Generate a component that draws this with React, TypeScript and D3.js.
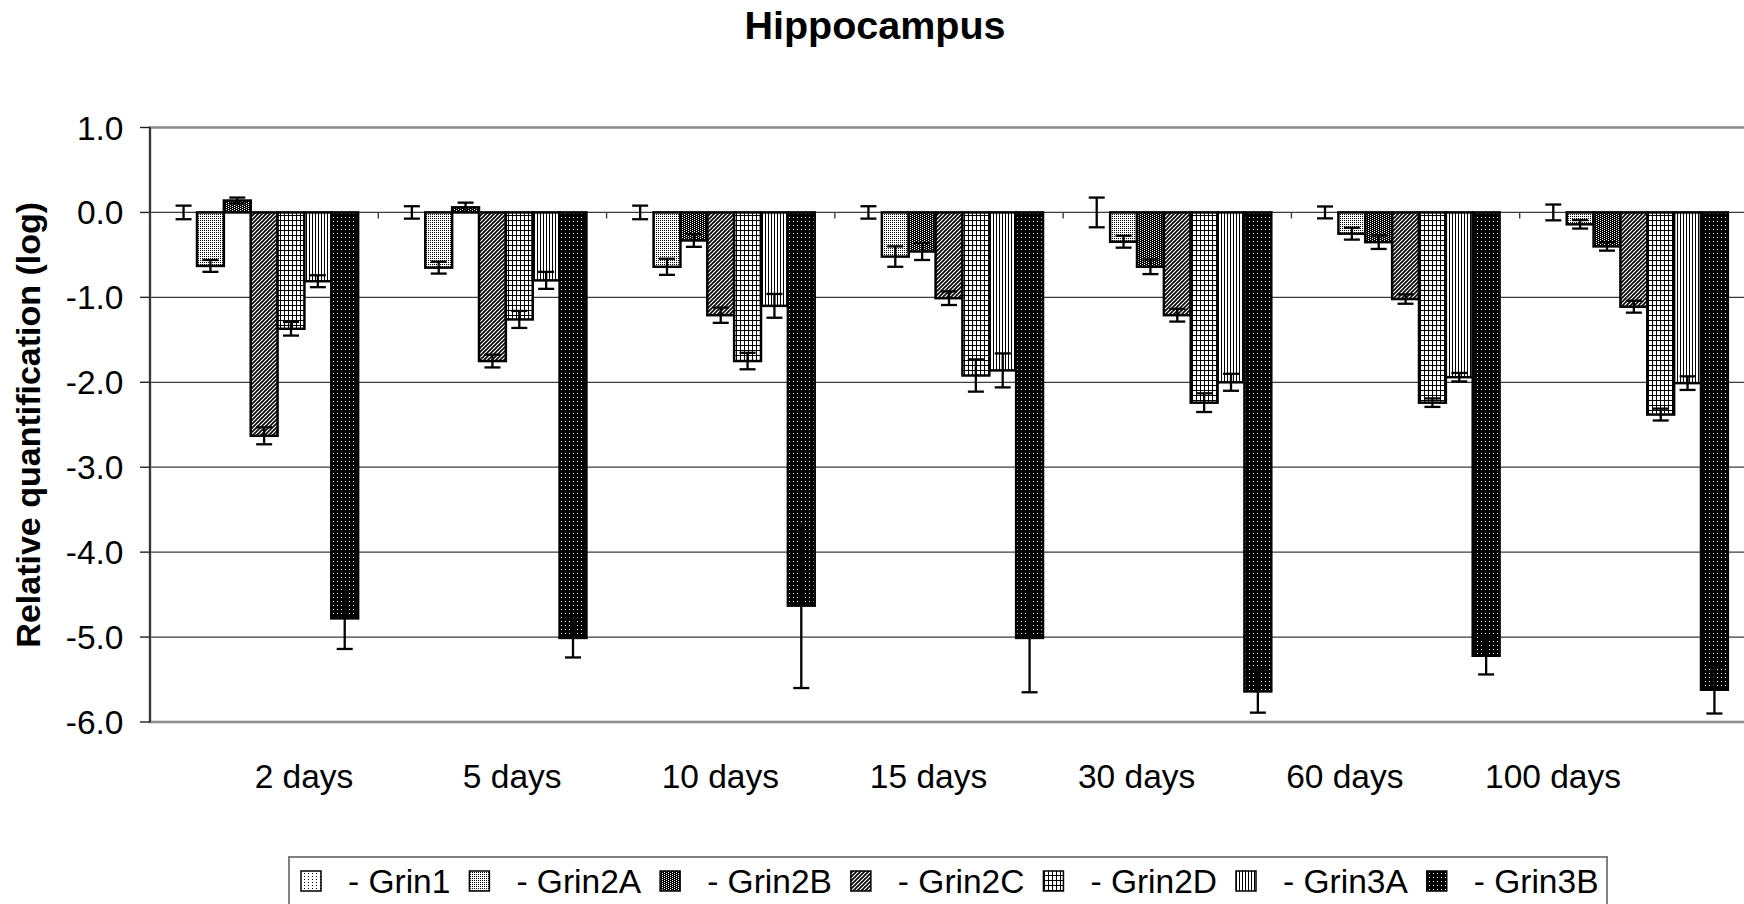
import React, { useEffect, useRef } from "react";
import * as d3 from "d3";

// Time points after treatment (category axis)
const DAYS = ["2 days", "5 days", "10 days", "15 days", "30 days", "60 days", "100 days"];

// NMDA receptor subunits (series)
const GENES = ["Grin1", "Grin2A", "Grin2B", "Grin2C", "Grin2D", "Grin3A", "Grin3B"];

// Relative quantification (log) per subunit, one value per time point
const GRIN1 = [0, 0, 0, 0, 0, 0, 0];
const GRIN2A = [-0.63, -0.65, -0.64, -0.52, -0.345, -0.25, -0.14];
const GRIN2B = [0.14, 0.06, -0.33, -0.46, -0.64, -0.35, -0.4];
const GRIN2C = [-2.63, -1.75, -1.21, -1.01, -1.21, -1.02, -1.11];
const GRIN2D = [-1.37, -1.26, -1.75, -1.92, -2.24, -2.24, -2.38];
const GRIN3A = [-0.81, -0.8, -1.1, -1.86, -2.0, -1.94, -2.01];
const GRIN3B = [-4.78, -5.01, -4.63, -5.01, -5.64, -5.22, -5.62];

// Error (± amplitude) for each value
const GRIN1_ERR = [0.08, 0.073, 0.08, 0.073, 0.175, 0.07, 0.093];
const GRIN2A_ERR = [0.07, 0.07, 0.095, 0.12, 0.07, 0.07, 0.05];
const GRIN2B_ERR = [0.035, 0.055, 0.075, 0.1, 0.086, 0.08, 0.05];
const GRIN2C_ERR = [0.1, 0.075, 0.09, 0.08, 0.075, 0.055, 0.07];
const GRIN2D_ERR = [0.08, 0.1, 0.097, 0.19, 0.11, 0.05, 0.07];
const GRIN3A_ERR = [0.07, 0.1, 0.14, 0.2, 0.1, 0.05, 0.08];
const GRIN3B_ERR = [0.36, 0.23, 0.97, 0.64, 0.25, 0.22, 0.28];

const Y_TICKS = [1, 0, -1, -2, -3, -4, -5, -6];
const TITLE = "Hippocampus";
const Y_TITLE = "Relative quantification (log)";

const VALUES = [GRIN1, GRIN2A, GRIN2B, GRIN2C, GRIN2D, GRIN3A, GRIN3B];
const ERRORS = [GRIN1_ERR, GRIN2A_ERR, GRIN2B_ERR, GRIN2C_ERR, GRIN2D_ERR, GRIN3A_ERR, GRIN3B_ERR];

const W = 1744;
const H = 904;
const FONT = "'Liberation Sans', Arial, Helvetica, sans-serif";

type Sel = d3.Selection<SVGDefsElement, unknown, null, undefined>;

function addPatterns(defs: Sel) {
  const mk = (id: string, w: number, h: number, bg: string) => {
    const p = defs
      .append("pattern")
      .attr("id", id)
      .attr("patternUnits", "userSpaceOnUse")
      .attr("width", w)
      .attr("height", h);
    p.append("rect").attr("width", w).attr("height", h).attr("fill", bg);
    return p;
  };
  const px = (p: any, x: number, y: number, w: number, h: number, c: string) =>
    p
      .append("rect")
      .attr("x", x)
      .attr("y", y)
      .attr("width", w)
      .attr("height", h)
      .attr("fill", c)
      .attr("shape-rendering", "crispEdges");

  // Grin1: sparse dots on white
  let p = mk("pat-0", 4, 3, "#fff");
  px(p, 0, 0, 1, 1, "#000");

  // Grin2A: light stipple
  p = mk("pat-1", 2, 2, "#fff");
  px(p, 0, 0, 1, 1, "#000");

  // Grin2B: dark stipple
  p = mk("pat-2", 4, 2, "#000");
  px(p, 0, 0, 1, 1, "#fff");
  px(p, 2, 1, 1, 1, "#fff");

  // Grin2C: upward diagonal hatching
  p = mk("pat-3", 4, 4, "#fff");
  p.append("path")
    .attr("d", "M0,4 L4,0 M-1,1 L1,-1 M3,5 L5,3")
    .attr("stroke", "#000")
    .attr("stroke-width", 1.6);

  // Grin2D: small grid
  p = mk("pat-4", 8, 5, "#fff");
  px(p, 0, 0, 1, 5, "#000");
  px(p, 4, 0, 1, 5, "#000");
  px(p, 0, 0, 8, 1, "#000");

  // Grin3A: narrow vertical stripes
  p = mk("pat-5", 3, 4, "#fff");
  px(p, 0, 0, 1, 4, "#000");

  // Grin3B: black with fine white dots
  p = mk("pat-6", 4, 4, "#000");
  px(p, 1, 1, 1, 1, "#fff");
}

export default function App() {
  const ref = useRef<SVGSVGElement | null>(null);

  useEffect(() => {
    document.body.style.margin = "0";
    document.body.style.overflow = "hidden";
    const svg = d3.select(ref.current as SVGSVGElement);
    svg.selectAll("*").remove();

    const defs = svg.append("defs") as unknown as Sel;
    addPatterns(defs);

    const left = 150;
    const right = 1748;
    const top = 127.5;
    const bottom = 722;

    const x = d3.scaleBand<string>().domain(DAYS).range([left, right]).paddingInner(0).paddingOuter(0);
    const xi = d3
      .scaleBand<string>()
      .domain(GENES)
      .range([0, x.bandwidth()])
      .paddingInner(0)
      .paddingOuter(0.75);
    const y = d3.scaleLinear().domain([-6, 1]).range([bottom, top]);
    const xLabel = d3.scalePoint<string>().domain(DAYS).range([304, 1553]);

    // Title
    svg
      .append("text")
      .attr("x", 875)
      .attr("y", 39)
      .attr("text-anchor", "middle")
      .attr("font-family", FONT)
      .attr("font-weight", "bold")
      .attr("font-size", 39.5)
      .text(TITLE);

    // Gridlines
    svg
      .append("g")
      .selectAll("line")
      .data(Y_TICKS.filter((t) => t > -6 && t < 1))
      .join("line")
      .attr("x1", left)
      .attr("x2", right)
      .attr("y1", (d) => y(d))
      .attr("y2", (d) => y(d))
      .attr("stroke", "#3c3c3c")
      .attr("stroke-width", 1.2);

    // Plot area frame
    svg
      .append("rect")
      .attr("x", left)
      .attr("y", top)
      .attr("width", right - left)
      .attr("height", bottom - top)
      .attr("fill", "none")
      .attr("stroke", "#8c8c8c")
      .attr("stroke-width", 2.6);

    // Value axis
    svg
      .append("line")
      .attr("x1", left)
      .attr("x2", left)
      .attr("y1", top)
      .attr("y2", bottom)
      .attr("stroke", "#222")
      .attr("stroke-width", 1.6);
    const yAxis = svg.append("g");
    yAxis
      .selectAll("line")
      .data(Y_TICKS)
      .join("line")
      .attr("x1", left - 10)
      .attr("x2", left)
      .attr("y1", (d) => y(d))
      .attr("y2", (d) => y(d))
      .attr("stroke", "#222")
      .attr("stroke-width", 1.4);
    yAxis
      .selectAll("text")
      .data(Y_TICKS)
      .join("text")
      .attr("x", 123.5)
      .attr("y", (d) => y(d) + 12)
      .attr("text-anchor", "end")
      .attr("font-family", FONT)
      .attr("font-size", 33.5)
      .text((d) => d.toFixed(1));

    // Category axis ticks on the zero line
    svg
      .append("g")
      .selectAll("line")
      .data([...DAYS.map((d) => x(d) as number), right])
      .join("line")
      .attr("x1", (d) => d)
      .attr("x2", (d) => d)
      .attr("y1", y(0))
      .attr("y2", y(0) + 6)
      .attr("stroke", "#3c3c3c")
      .attr("stroke-width", 1.4);

    svg
      .append("g")
      .selectAll("text")
      .data(DAYS)
      .join("text")
      .attr("x", (d) => xLabel(d) as number)
      .attr("y", 788)
      .attr("text-anchor", "middle")
      .attr("font-family", FONT)
      .attr("font-size", 33.5)
      .text((d) => d);

    // Axis title
    svg
      .append("text")
      .attr("transform", `translate(40, ${(top + bottom) / 2}) rotate(-90)`)
      .attr("text-anchor", "middle")
      .attr("font-family", FONT)
      .attr("font-weight", "bold")
      .attr("font-size", 34)
      .text(Y_TITLE);

    // Bars
    const rows = DAYS.flatMap((day, di) =>
      GENES.map((gene, gi) => ({ day, gene, gi, v: VALUES[gi][di], e: ERRORS[gi][di] }))
    );
    const bx = (r: { day: string; gene: string }) => (x(r.day) as number) + (xi(r.gene) as number);
    const bw = xi.bandwidth();

    svg
      .append("g")
      .selectAll("rect")
      .data(rows.filter((r) => r.v !== 0))
      .join("rect")
      .attr("x", (r) => bx(r))
      .attr("width", bw)
      .attr("y", (r) => Math.min(y(r.v), y(0)))
      .attr("height", (r) => Math.abs(y(r.v) - y(0)))
      .attr("fill", (r) => `url(#pat-${r.gi})`)
      .attr("stroke", "#000")
      .attr("stroke-width", 2.5);

    // Error bars
    const eb = svg.append("g").attr("stroke", "#000").attr("stroke-width", 2.3);
    const cap = 8;
    rows.forEach((r) => {
      const cx = bx(r) + bw / 2;
      const y1 = y(r.v + r.e);
      const y2 = y(r.v - r.e);
      eb.append("line").attr("x1", cx).attr("x2", cx).attr("y1", y1).attr("y2", y2);
      eb.append("line").attr("x1", cx - cap).attr("x2", cx + cap).attr("y1", y1).attr("y2", y1);
      eb.append("line").attr("x1", cx - cap).attr("x2", cx + cap).attr("y1", y2).attr("y2", y2);
    });

    // Legend
    const lg = svg.append("g");
    lg.append("rect")
      .attr("x", 289)
      .attr("y", 857)
      .attr("width", 1318)
      .attr("height", 70)
      .attr("fill", "#fff")
      .attr("stroke", "#808080")
      .attr("stroke-width", 2);
    let cx = 301;
    GENES.forEach((g, gi) => {
      lg.append("rect")
        .attr("x", cx)
        .attr("y", 871)
        .attr("width", 20)
        .attr("height", 20)
        .attr("fill", `url(#pat-${gi})`)
        .attr("stroke", "#000")
        .attr("stroke-width", 1.5);
      const t = lg
        .append("text")
        .attr("x", cx + 47)
        .attr("y", 893)
        .attr("font-family", FONT)
        .attr("font-size", 33.5)
        .text(`- ${g}`);
      const w = (t.node() as SVGTextElement).getComputedTextLength();
      cx = cx + 47 + w + 19;
    });
  }, []);

  return (
    <svg
      ref={ref}
      width={W}
      height={H}
      viewBox={`0 0 ${W} ${H}`}
      style={{ position: "absolute", left: 0, top: 0, background: "#fff", display: "block" }}
    />
  );
}
